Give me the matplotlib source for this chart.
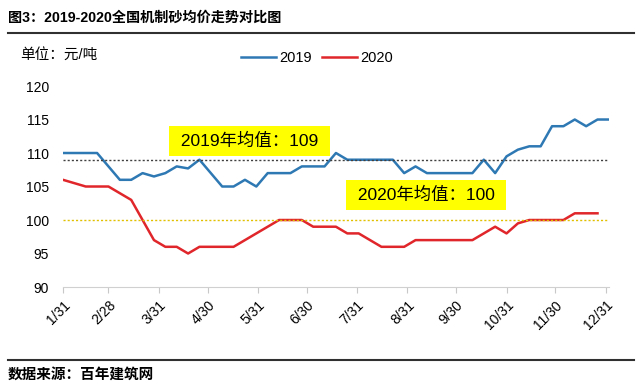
import numpy as np
import pandas as pd
import matplotlib
matplotlib.use("Agg")
import matplotlib.pyplot as plt

plt.rcParams['font.family'] = ['Liberation Sans', 'Noto Sans CJK SC']

# weekly prices, yuan/ton
dates = pd.date_range('2019-01-31', periods=49, freq='7D')
price_2019 = [110, 110, 110, 110, 108, 106, 106, 107, 106.5, 107,
              108, 107.7, 109, 107, 105, 105, 106, 105, 107, 107,
              107, 108, 108, 108, 110, 109, 109, 109, 109, 109,
              107, 108, 107, 107, 107, 107, 107, 109, 107, 109.5,
              110.5, 111, 111, 114, 114, 115, 114, 115, 115]
price_2020 = [106, 105.5, 105, 105, 105, 104, 103, 100, 97, 96,
              96, 95, 96, 96, 96, 96, 97, 98, 99, 100,
              100, 100, 99, 99, 99, 98, 98, 97, 96, 96,
              96, 97, 97, 97, 97, 97, 97, 98, 99, 98,
              99.5, 100, 100, 100, 100, 101, 101, 101, np.nan]
mean_2019 = 109
mean_2020 = 100
tick_dates = pd.to_datetime(['2019-01-31', '2019-02-28', '2019-03-31', '2019-04-30',
                             '2019-05-31', '2019-06-30', '2019-07-31', '2019-08-31',
                             '2019-09-30', '2019-10-31', '2019-11-30', '2019-12-31'])
tick_labels = ['1/31', '2/28', '3/31', '4/30', '5/31', '6/30',
               '7/31', '8/31', '9/30', '10/31', '11/30', '12/31']

fig = plt.figure(figsize=(6.4, 3.88), dpi=100)
ax = fig.add_axes([0.0984, 0.2603, 0.853, 0.518])

ax.plot(dates, price_2019, color='#2E78B4', lw=1.8, label='2019')
ax.plot(dates, price_2020, color='#E0262A', lw=1.8, label='2020')
ax.plot([dates[0], dates[-1]], [mean_2019, mean_2019], color='#404040', lw=1.0, ls=(0, (1.5, 1.5)))
ax.plot([dates[0], dates[-1]], [mean_2020, mean_2020], color='#E0C000', lw=1.0, ls=(0, (1.5, 1.5)))

ax.set_xlim(dates[0], dates[-1])
ax.set_ylim(90, 120)
ax.set_yticks(range(90, 121, 5))
ax.set_xticks(tick_dates)
ax.set_xticklabels(tick_labels, rotation=45, ha='right', va='top', rotation_mode='anchor')
ax.tick_params(axis='x', colors='#C8C8C8', labelcolor='black', labelsize=10, length=4, pad=4)
ax.tick_params(axis='y', length=0, labelsize=10, pad=10)
for s in ['top', 'right', 'left']:
    ax.spines[s].set_visible(False)
ax.spines['bottom'].set_color('#D0D0D0')

box = dict(boxstyle='square,pad=0.4', fc='#FFFF00', ec='none')
ax.text(0.341, 0.726, ' 2019年均值：109 ', transform=ax.transAxes, ha='center', va='center',
        fontsize=12.5, bbox=box)
ax.text(0.665, 0.458, ' 2020年均值：100 ', transform=ax.transAxes, ha='center', va='center',
        fontsize=12.5, bbox=box)

fig.text(0.012, 0.953, '图3：2019-2020全国机制砂均价走势对比图', fontsize=10.2,
         fontweight='bold', va='center')
fig.add_artist(plt.Line2D([0.012, 0.99], [0.915, 0.915], color='#303030', lw=1.5))
fig.text(0.032, 0.858, '单位：元/吨', fontsize=10.5, va='center')
fig.legend(loc='center', bbox_to_anchor=(0.495, 0.85), ncol=2, frameon=False,
           fontsize=10.5, handlelength=2.4, handletextpad=0.2, columnspacing=0.7)
fig.add_artist(plt.Line2D([0.012, 0.99], [0.072, 0.072], color='#303030', lw=1.5))
fig.text(0.012, 0.033, '数据来源：百年建筑网', fontsize=10.5, fontweight='bold', va='center')

fig.savefig('out.png', dpi=100)
